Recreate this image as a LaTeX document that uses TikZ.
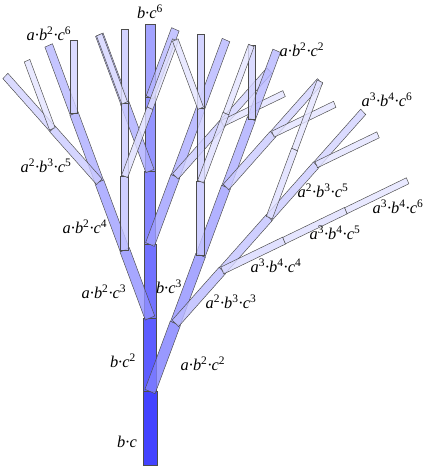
\documentclass[tikz,border=0pt]{standalone}
\usepackage{fontspec}
\setmainfont{Liberation Serif}
\usetikzlibrary{positioning}

\tikzset{limb/.style={draw=black!70, line width=0.4pt, fill opacity=0.8},
  tag/.style={font=\itshape\fontsize{14}{16}\selectfont, inner sep=0pt}}

\newcommand{\pow}[1]{\textsuperscript{\upshape#1}}
\newcommand{\seglen}{73.5}
\newcommand{\squash}{0.92}
% one bar of the tree, then its two children
% #1,#2 foot, #3 angle, #4 level, #5 side of next turn, #6 turns so far
\newcommand{\sprout}[6]{%
  \begingroup
  \pgfmathsetmacro{\halfw}{7.4*0.93^(#4-1)*0.86^(#6)}%
  \pgfmathsetmacro{\tone}{92*0.867^(#4-1)*0.625^(#6)}%
  \pgfmathsetmacro{\ux}{\squash*\seglen*sin(#3)}%
  \pgfmathsetmacro{\uy}{-\seglen*cos(#3)}%
  \pgfmathsetmacro{\nx}{\squash*\halfw*cos(#3)}%
  \pgfmathsetmacro{\ny}{\halfw*sin(#3)}%
  \pgfmathsetmacro{\tipx}{#1+\ux}%
  \pgfmathsetmacro{\tipy}{#2+\uy}%
  \filldraw[limb, fill=blue!\tone!white]
    ({#1-(\nx)},{#2-(\ny)}) -- ({\tipx-(\nx)},{\tipy-(\ny)})
    -- ({\tipx+\nx},{\tipy+\ny}) -- ({#1+\nx},{#2+\ny}) -- cycle;
  \ifnum#4<6
    \pgfmathtruncatemacro{\nk}{#4+1}%
    \pgfmathtruncatemacro{\ns}{-1*(#5)}%
    \pgfmathsetmacro{\nd}{#3+22*(#5)}%
    \pgfmathtruncatemacro{\nt}{#6+1}%
    \edef\growon{\noexpand\sprout{\tipx}{\tipy}{#3}{\nk}{\ns}{#6}}\growon
    \ifnum#6<3
      \edef\growon{\noexpand\sprout{\tipx}{\tipy}{\nd}{\nk}{1}{\nt}}\growon
    \fi
  \fi
  \endgroup}

\begin{document}
\begin{tikzpicture}[x=0.03cm, y=-0.03cm]
  \useasboundingbox (0,0) rectangle (426,468);

  \sprout{150}{465}{0}{1}{1}{0}

  % labels
  \node[tag] (bc6)    at (150,12)  {b·c\pow{6}};
  \node[tag] (abc6)   at (49,34)   {a·b\pow{2}·c\pow{6}};
  \node[tag] (abctop) at (302,50)  {a·b\pow{2}·c\pow{2}};
  \node[tag] (ac6up)  at (387,100) {a\pow{3}·b\pow{4}·c\pow{6}};
  \node[tag] (ac5l)   at (46,166)  {a\pow{2}·b\pow{3}·c\pow{5}};
  \node[tag] (abc4)   at (85,227)  {a·b\pow{2}·c\pow{4}};
  \node[tag] (ac5r)   at (323,191) {a\pow{2}·b\pow{3}·c\pow{5}};
  \node[tag] (ac6low) at (398,207) {a\pow{3}·b\pow{4}·c\pow{6}};
  \node[tag] (a3c5)   at (335,233) {a\pow{3}·b\pow{4}·c\pow{5}};
  \node[tag] (a3c4)   at (276,266) {a\pow{3}·b\pow{4}·c\pow{4}};
  \node[tag] (a2c3)   at (231,302) {a\pow{2}·b\pow{3}·c\pow{3}};
  \node[tag] (bc3)    at (169,287) {b·c\pow{3}};
  \node[tag] (abc3)   at (104,292) {a·b\pow{2}·c\pow{3}};
  \node[tag] (abc2)   at (203,364) {a·b\pow{2}·c\pow{2}};
  \node[tag] (bc2)    at (123,361) {b·c\pow{2}};
  \node[tag] (bc)     at (127,442) {b·c};
\end{tikzpicture}
\end{document}
